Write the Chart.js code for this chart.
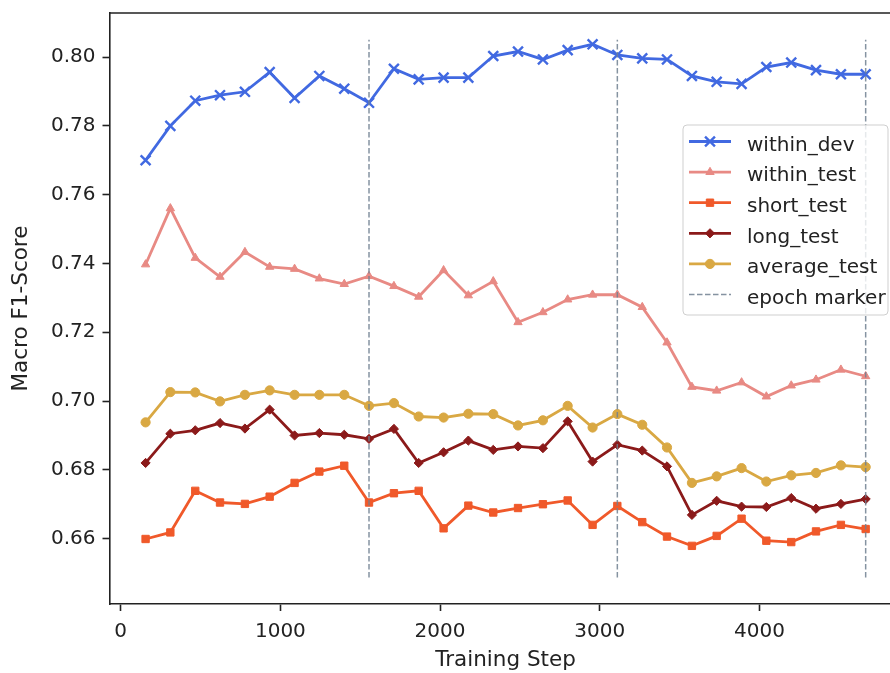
<!DOCTYPE html>
<html>
<head>
<meta charset="utf-8">
<script src="https://cdn.jsdelivr.net/npm/chart.js@4/dist/chart.umd.min.js"></script>
<style>
  html, body { margin: 0; padding: 0; background: #fff; overflow: hidden; }
  #wrap { width: 911px; height: 673px; }
</style>
</head>
<body>
<div id="wrap"><canvas id="f1-chart" width="911" height="673"></canvas></div>
<script>
// Training curves
// ------------------------------
var steps = [156, 311, 467, 622, 778, 933, 1089, 1244, 1400, 1555,
             1711, 1866, 2022, 2177, 2333, 2488, 2644, 2799, 2955, 3110,
             3266, 3421, 3577, 3732, 3888, 4043, 4199, 4354, 4510, 4665];

var withinDev = [0.7700, 0.7800, 0.7873, 0.7889, 0.7899, 0.7956, 0.7881, 0.7945, 0.7908, 0.7867,
                 0.7966, 0.7935, 0.7940, 0.7940, 0.8003, 0.8016, 0.7993, 0.8020, 0.8037, 0.8006,
                 0.7996, 0.7993, 0.7945, 0.7928, 0.7922, 0.7971, 0.7984, 0.7962, 0.7950, 0.7950];

var withinTest = [0.7397, 0.7560, 0.7416, 0.7361, 0.7433, 0.7390, 0.7384, 0.7356, 0.7340, 0.7363,
                  0.7334, 0.7303, 0.7380, 0.7307, 0.7348, 0.7229, 0.7258, 0.7295, 0.7309, 0.7309,
                  0.7273, 0.7170, 0.7041, 0.7030, 0.7054, 0.7013, 0.7045, 0.7062, 0.7091, 0.7072];

var shortTest = [0.6599, 0.6618, 0.6739, 0.6705, 0.6701, 0.6722, 0.6762, 0.6795, 0.6812, 0.6705,
                 0.6732, 0.6739, 0.6630, 0.6696, 0.6676, 0.6689, 0.6700, 0.6711, 0.6640, 0.6695,
                 0.6648, 0.6606, 0.6579, 0.6608, 0.6658, 0.6594, 0.6590, 0.6621, 0.6640, 0.6628];

var longTest = [0.6820, 0.6905, 0.6915, 0.6936, 0.6920, 0.6975, 0.6900, 0.6907, 0.6902, 0.6890,
                0.6919, 0.6820, 0.6851, 0.6885, 0.6858, 0.6868, 0.6863, 0.6941, 0.6824, 0.6873,
                0.6856, 0.6810, 0.6669, 0.6710, 0.6693, 0.6692, 0.6718, 0.6687, 0.6701, 0.6715];

var averageTest = [0.6938, 0.7026, 0.7025, 0.6999, 0.7018, 0.7031, 0.7018, 0.7018, 0.7018, 0.6986,
                   0.6994, 0.6955, 0.6952, 0.6963, 0.6962, 0.6929, 0.6944, 0.6986, 0.6923, 0.6962,
                   0.6931, 0.6865, 0.6762, 0.6781, 0.6805, 0.6766, 0.6784, 0.6791, 0.6813, 0.6808];

var epochSteps = [1555, 3110, 4665];
var epochRange = [0.6487, 0.8050];

var xTicks = [0, 1000, 2000, 3000, 4000];
var yTicks = [0.66, 0.68, 0.70, 0.72, 0.74, 0.76, 0.78, 0.80];

var FONT = "'DejaVu Sans', sans-serif";
var INK = '#222';

function toPoints(values) {
    return steps.map(function (s, i) { return { x: s, y: values[i] }; });
}

// one entry per plotted series
var series = [
    { label: 'within_dev',   values: withinDev,   color: '#4169E1', style: 'crossRot', radius: 7,   fill: false },
    { label: 'within_test',  values: withinTest,  color: '#E88A84', style: 'triangle', radius: 4.8, fill: true },
    { label: 'short_test',   values: shortTest,   color: '#F0592A', style: 'rect',     radius: 5.2, fill: true },
    { label: 'long_test',    values: longTest,    color: '#8B1A1A', style: 'rectRot',  radius: 4.6, fill: true },
    { label: 'average_test', values: averageTest, color: '#D9A843', style: 'circle',   radius: 4.6, fill: true }
];

var datasets = series.map(function (s, i) {
    return {
        label: s.label,
        data: toPoints(s.values),
        borderColor: s.color,
        backgroundColor: s.color,
        borderWidth: 2.8,
        pointStyle: s.style,
        pointRadius: s.radius,
        pointBorderWidth: s.fill ? 1 : 2.4,
        pointBackgroundColor: s.color,
        pointBorderColor: s.color,
        tension: 0,
        order: series.length - i
    };
});

var epochColor = 'rgba(112,128,144,0.85)';
epochSteps.forEach(function (s) {
    datasets.push({
        label: 'epoch marker',
        data: [{ x: s, y: epochRange[0] }, { x: s, y: epochRange[1] }],
        borderColor: epochColor,
        borderWidth: 1.5,
        borderDash: [5.5, 2.5],
        pointRadius: 0,
        order: 0
    });
});

// matplotlib style legend box inside the plot
var legendBox = {
    id: 'legendBox',
    afterDraw: function (chart) {
        var ctx = chart.ctx;
        var left = 683, top = 125, w = 205, h = 190, r = 4;
        ctx.save();
        ctx.beginPath();
        ctx.moveTo(left + r, top);
        ctx.arcTo(left + w, top, left + w, top + h, r);
        ctx.arcTo(left + w, top + h, left, top + h, r);
        ctx.arcTo(left, top + h, left, top, r);
        ctx.arcTo(left, top, left + w, top, r);
        ctx.closePath();
        ctx.fillStyle = 'rgba(255,255,255,0.8)';
        ctx.fill();
        ctx.strokeStyle = '#cfcfcf';
        ctx.lineWidth = 1;
        ctx.stroke();

        var rows = series.concat([{ label: 'epoch marker', dashed: true }]);
        ctx.font = '20px ' + FONT;
        ctx.textBaseline = 'middle';
        ctx.textAlign = 'left';
        rows.forEach(function (s, i) {
            var y = 141.5 + i * 30.6;
            ctx.beginPath();
            if (s.dashed) {
                ctx.strokeStyle = epochColor;
                ctx.lineWidth = 1.5;
                ctx.setLineDash([5.5, 2.5]);
            } else {
                ctx.strokeStyle = s.color;
                ctx.lineWidth = 2.8;
                ctx.setLineDash([]);
            }
            ctx.moveTo(689, y);
            ctx.lineTo(731, y);
            ctx.stroke();
            ctx.setLineDash([]);
            if (!s.dashed) {
                ctx.fillStyle = s.color;
                ctx.strokeStyle = s.color;
                ctx.lineWidth = s.fill ? 1 : 2.4;
                Chart.helpers.drawPoint(ctx, { pointStyle: s.style, radius: s.radius, borderWidth: ctx.lineWidth, rotation: 0 }, 710, y);
            }
            ctx.fillStyle = INK;
            ctx.fillText(s.label, 747, y + 4);
        });
        ctx.restore();
    }
};

// top and right spines
var frame = {
    id: 'frame',
    afterDraw: function (chart) {
        var a = chart.chartArea, ctx = chart.ctx;
        ctx.save();
        ctx.strokeStyle = INK;
        ctx.lineWidth = 1.6;
        ctx.beginPath();
        ctx.moveTo(a.left, a.top);
        ctx.lineTo(a.right, a.top);
        ctx.lineTo(a.right, a.bottom);
        ctx.stroke();
        ctx.restore();
    }
};

function noPad(scale) {
    scale.paddingTop = 0;
    scale.paddingBottom = 0;
    scale.paddingLeft = 0;
    scale.paddingRight = 0;
}

var ctx = document.getElementById('f1-chart');

var chartOptions = {
    responsive: false,
    animation: false,
    devicePixelRatio: 1,
    events: [],
    layout: { padding: { top: 13, right: 6, left: 0, bottom: 0 } },
    plugins: { legend: { display: false }, tooltip: { enabled: false } },
    scales: {
        x: {
            type: 'linear',
            min: -70,
            max: 4890,
            afterFit: function (scale) { scale.height = 69; noPad(scale); },
            afterBuildTicks: function (scale) { scale.ticks = xTicks.map(function (v) { return { value: v }; }); },
            ticks: {
                autoSkip: false, maxRotation: 0, padding: 9,
                color: INK, font: { family: FONT, size: 20 },
                callback: function (v) { return String(v); }
            },
            grid: { drawOnChartArea: false, drawTicks: true, tickLength: 7, tickWidth: 1.6, tickColor: INK },
            border: { display: true, color: INK, width: 1.6 },
            title: { display: true, text: 'Training Step', color: INK, font: { family: FONT, size: 21.5 }, padding: { top: 0, bottom: 0 } }
        },
        y: {
            min: 0.6410,
            max: 0.8128,
            afterFit: function (scale) { scale.width = 109.5; noPad(scale); },
            afterBuildTicks: function (scale) { scale.ticks = yTicks.map(function (v) { return { value: v }; }); },
            ticks: {
                autoSkip: false, padding: 7,
                color: INK, font: { family: FONT, size: 20 },
                callback: function (v) { return v.toFixed(2); }
            },
            grid: { drawOnChartArea: false, drawTicks: true, tickLength: 7, tickWidth: 1.6, tickColor: INK },
            border: { display: true, color: INK, width: 1.6 },
            title: { display: true, text: 'Macro F1-Score', color: INK, font: { family: FONT, size: 21.5 }, padding: { top: 9, bottom: 0 } }
        }
    }
};

var f1Chart = new Chart(ctx, {
    type: 'line',
    data: { datasets: datasets },
    options: chartOptions,
    plugins: [frame, legendBox]
});
</script>
</body>
</html>
